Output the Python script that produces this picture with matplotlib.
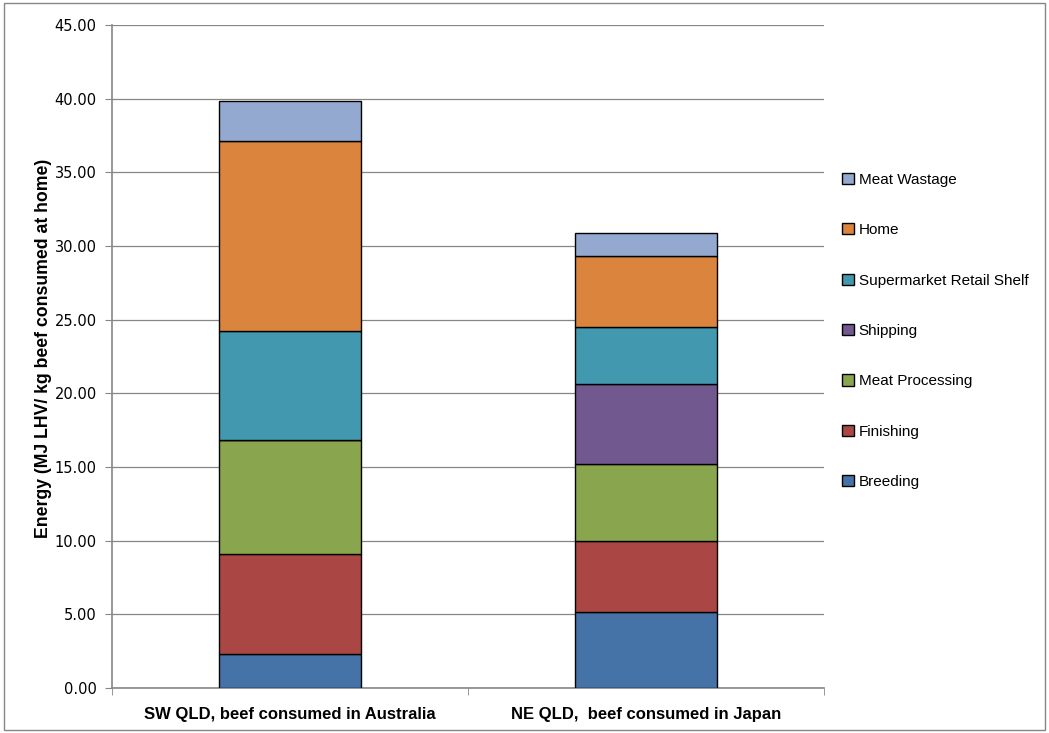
import numpy as np
import matplotlib
matplotlib.use('Agg')
import matplotlib.pyplot as plt
import matplotlib.ticker as tic
from matplotlib.patches import Rectangle

# energy per stage, MJ LHV / kg beef consumed at home
sites = ['SW QLD, beef consumed in Australia', 'NE QLD,  beef consumed in Japan']
stages = ['Breeding', 'Finishing', 'Meat Processing', 'Shipping',
          'Supermarket Retail Shelf', 'Home', 'Meat Wastage']
breeding = [2.31, 5.16]
finishing = [6.79, 4.82]
processing = [7.74, 5.23]
shipping = [0.0, 5.43]
retail = [7.40, 3.87]
home = [12.89, 4.82]
wastage = [2.72, 1.56]
colours = ['#4572a7', '#aa4643', '#89a54e', '#71588f', '#4198af', '#db843d', '#93a9cf']

series = [breeding, finishing, processing, shipping, retail, home, wastage]

plt.rcParams['font.family'] = ['DejaVu Sans']
fig = plt.figure(figsize=(10.49, 7.33), dpi=100)
ax = fig.add_axes([0.1068, 0.0614, 0.6787, 0.9045])

x = np.arange(len(sites))
bottom = np.zeros(len(sites))
for vals, lab, col in zip(series, stages, colours):
    vals = np.array(vals)
    ax.bar(x, vals, 0.4, bottom=bottom, color=col, edgecolor='black',
           linewidth=1.0, label=lab, zorder=3)
    bottom += vals

ax.set_xlim(-0.5, 1.5)
ax.set_ylim(0, 45)
ax.yaxis.set_major_locator(tic.MultipleLocator(5))
ax.yaxis.set_major_formatter(tic.FormatStrFormatter('%.2f'))
ax.set_xticks(x)
ax.set_xticklabels(sites, fontsize=12, fontweight='bold', family='Liberation Sans')
ax.set_xticks([-0.5, 0.5, 1.5], minor=True)
ax.tick_params(axis='x', which='major', length=0, pad=14)
ax.tick_params(axis='x', which='minor', length=5, color='#868686')
ax.tick_params(axis='y', length=5, color='#868686', labelsize=10.5, pad=6)
ax.grid(axis='y', color='#868686', linewidth=0.9, zorder=0)
for s in ['top', 'right']:
    ax.spines[s].set_visible(False)
for s in ['left', 'bottom']:
    ax.spines[s].set_color('#868686')
    ax.spines[s].set_linewidth(1.2)
ax.set_ylabel('Energy (MJ LHV/ kg beef consumed at home)', fontsize=12.7,
              fontweight='bold', family='Liberation Sans')
ax.yaxis.set_label_coords(-0.084, 0.513)

h, l = ax.get_legend_handles_labels()
leg = fig.legend(h[::-1], l[::-1], loc='upper left', bbox_to_anchor=(0.79, 0.783),
                 frameon=False, labelspacing=2.38,
                 handlelength=0.75, handleheight=0.75, handletextpad=0.3,
                 prop={'family': 'Liberation Sans', 'size': 11})

fig.patches.append(Rectangle((0.004, 0.004), 0.992, 0.992, transform=fig.transFigure,
                             fill=False, edgecolor='#868686', linewidth=1))

fig.savefig('out.png', dpi=100)
